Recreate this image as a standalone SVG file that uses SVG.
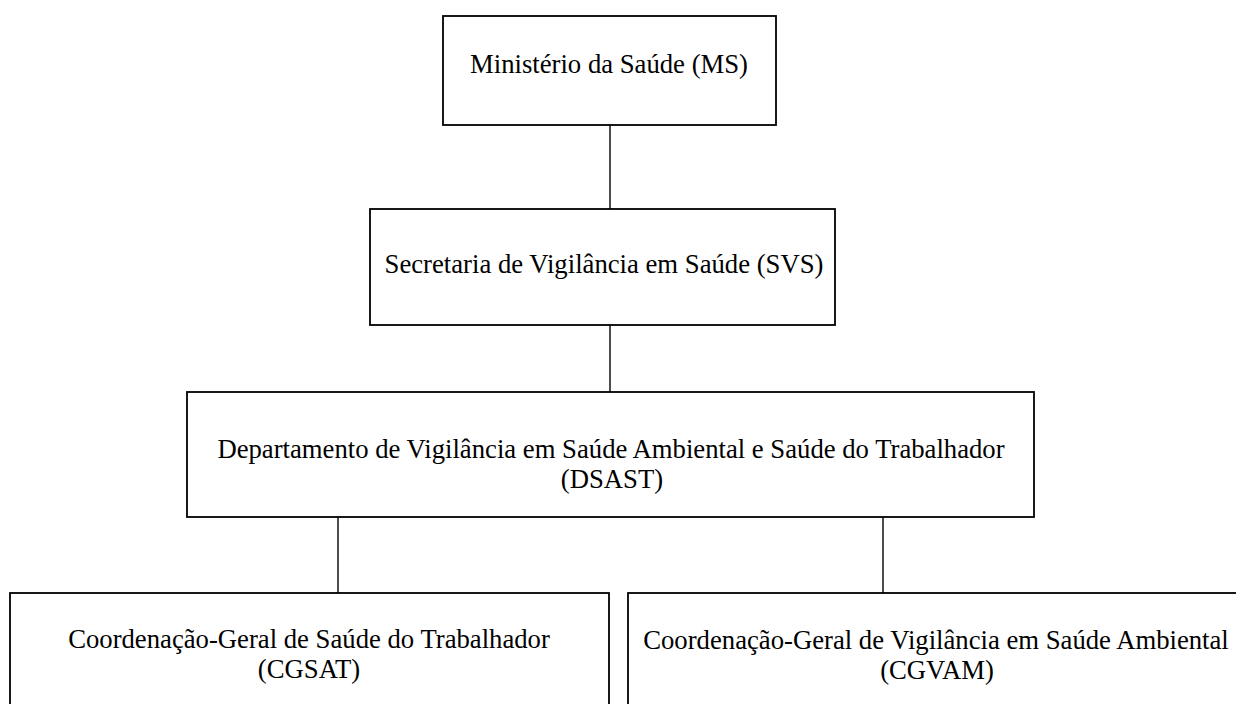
<svg xmlns="http://www.w3.org/2000/svg" width="1236" height="704" viewBox="0 0 1236 704">
<style>
.box{fill:#fff;stroke:#000;stroke-width:1.8}
.lbl{font-family:"Liberation Serif","Times New Roman",serif;font-size:26.7px;fill:#000;text-anchor:middle}
.conn{stroke:#000;stroke-width:1.4;fill:none}
</style>
<rect width="1236" height="704" fill="#fff"/>
<g id="connectors">
<line class="conn" x1="610" y1="125" x2="610" y2="209"/>
<line class="conn" x1="610" y1="325" x2="610" y2="392"/>
<line class="conn" x1="338" y1="517" x2="338" y2="593"/>
<line class="conn" x1="883" y1="517" x2="883" y2="593"/>
</g>
<g id="ms">
<rect class="box" x="443" y="16" width="333" height="109"/>
<text class="lbl" x="609" y="73">Ministério da Saúde (MS)</text>
</g>
<g id="svs">
<rect class="box" x="370" y="209" width="465" height="116"/>
<text class="lbl" x="604" y="273">Secretaria de Vigilância em Saúde (SVS)</text>
</g>
<g id="dsast">
<rect class="box" x="187" y="392" width="847" height="125"/>
<text class="lbl" x="611" y="458">Departamento de Vigilância em Saúde Ambiental e Saúde do Trabalhador</text>
<text class="lbl" x="612" y="488">(DSAST)</text>
</g>
<g id="cgsat">
<rect class="box" x="10" y="593" width="599" height="130"/>
<text class="lbl" x="309" y="648">Coordenação-Geral de Saúde do Trabalhador</text>
<text class="lbl" x="309" y="678">(CGSAT)</text>
</g>
<g id="cgvam">
<rect class="box" x="628" y="593" width="640" height="130"/>
<text class="lbl" x="936" y="649">Coordenação-Geral de Vigilância em Saúde Ambiental</text>
<text class="lbl" x="937" y="679">(CGVAM)</text>
</g>
</svg>
